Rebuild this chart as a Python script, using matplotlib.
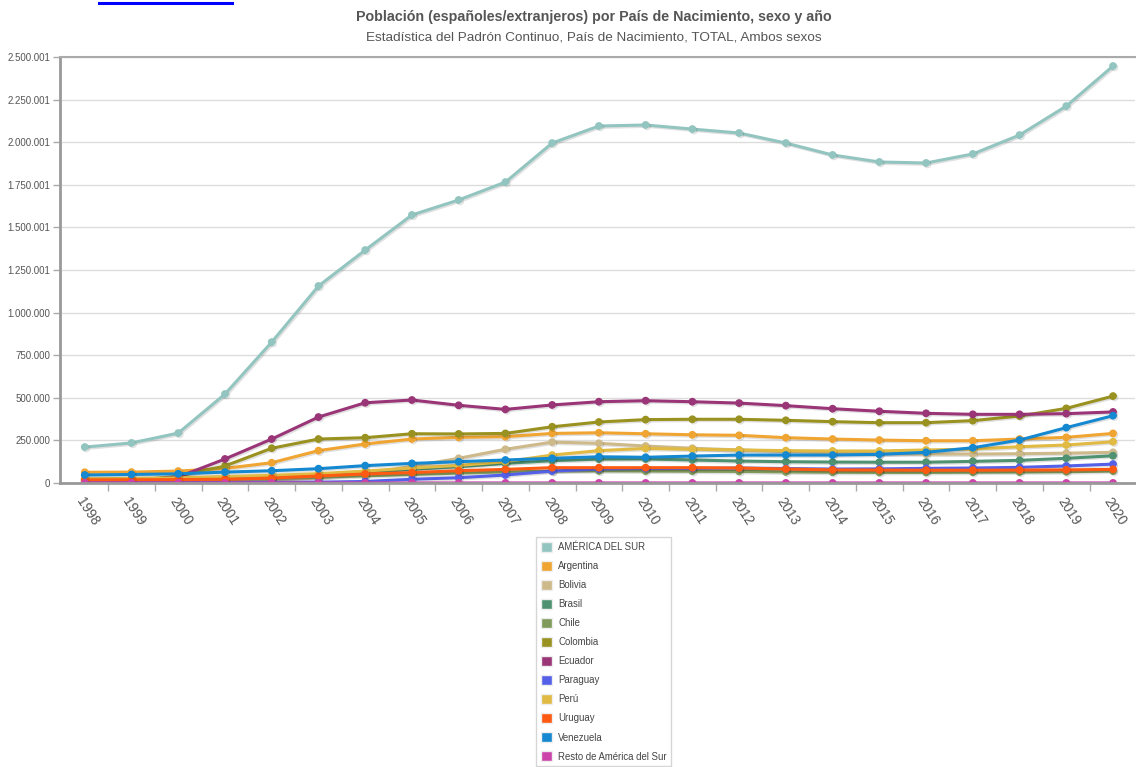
import matplotlib
matplotlib.use("Agg")
import matplotlib.pyplot as plt
import matplotlib.patheffects as pe
from matplotlib.lines import Line2D
from matplotlib.patches import Patch

years = [str(y) for y in range(1998, 2021)]

america_sur = [211000, 235000, 293000, 522000, 827000, 1156000, 1367000, 1573000,
               1661000, 1766000, 1995000, 2095000, 2101000, 2077000, 2054000, 1995000,
               1925000, 1884000, 1878000, 1931000, 2042000, 2212000, 2447000]
argentina = [63000, 64000, 70000, 86000, 119000, 190000, 229000, 258000, 268000, 272000,
             291000, 295000, 289000, 283000, 280000, 266000, 258000, 252000, 248000,
             248000, 258000, 268000, 291000]
bolivia = [3000, 3000, 5000, 8000, 14000, 30000, 55000, 98000, 145000, 198000, 240000,
           233000, 217000, 204000, 194000, 185000, 176000, 172000, 170000, 170000,
           172000, 175000, 180000]
brasil = [20000, 20000, 23000, 28000, 35000, 45000, 60000, 80000, 96000, 115000, 131000,
          140000, 141000, 135000, 129000, 125000, 123000, 122000, 122000, 127000,
          133000, 145000, 160000]
chile = [17000, 18000, 19000, 25000, 30000, 35000, 42000, 50000, 58000, 65000, 70000,
         71000, 70000, 69000, 68000, 65000, 63000, 62000, 62000, 63000, 64000, 66000, 70000]
colombia = [10000, 13000, 40000, 100000, 204000, 258000, 266000, 289000, 288000, 291000,
            330000, 358000, 372000, 374000, 374000, 368000, 360000, 354000, 354000,
            366000, 393000, 438000, 510000]
ecuador = [4000, 12000, 35000, 141000, 258000, 387000, 471000, 487000, 456000, 432000,
           458000, 477000, 483000, 477000, 469000, 454000, 436000, 421000, 409000,
           403000, 403000, 407000, 417000]
paraguay = [2000, 2000, 2000, 3000, 4000, 5000, 9000, 22000, 31000, 47000, 70000, 82000,
            85000, 86000, 88000, 85000, 82000, 83000, 86000, 88000, 92000, 100000, 111000]
peru = [25000, 27000, 30000, 38000, 45000, 55000, 70000, 88000, 103000, 125000, 164000,
        190000, 203000, 198000, 194000, 190000, 188000, 188000, 194000, 199000, 213000,
        223000, 242000]
uruguay = [18000, 19000, 20000, 22000, 29000, 41000, 53000, 61000, 72000, 80000, 90000,
           90000, 90000, 90000, 88000, 82000, 77000, 76000, 75000, 75000, 76000, 77000, 80000]
venezuela = [47000, 50000, 54000, 64000, 72000, 84000, 102000, 115000, 125000, 135000,
             145000, 154000, 151000, 158000, 164000, 164000, 164000, 168000, 180000,
             207000, 252000, 325000, 395000]
resto = [250, 260, 280, 300, 320, 350, 380, 400, 420, 440, 460, 470, 480, 480, 470, 460,
         450, 440, 430, 430, 440, 450, 470]

series_names = ["AMÉRICA DEL SUR", "Argentina", "Bolivia", "Brasil", "Chile", "Colombia",
                "Ecuador", "Paraguay", "Perú", "Uruguay", "Venezuela",
                "Resto de América del Sur"]
series_values = [america_sur, argentina, bolivia, brasil, chile, colombia, ecuador,
                 paraguay, peru, uruguay, venezuela, resto]
series_colors = ["#93c5c0", "#f0a532", "#cdb98a", "#4e9272", "#7f9a5a", "#9a9220",
                 "#9a3578", "#5560e8", "#e0ba42", "#ff5a12", "#1488d0", "#cc44aa"]

ytick_values = [0, 250000, 500000, 750000, 1000000, 1250001, 1500001, 1750001,
                2000001, 2250001, 2500001]
ytick_labels = ["0", "250.000", "500.000", "750.000", "1.000.000", "1.250.001",
                "1.500.001", "1.750.001", "2.000.001", "2.250.001", "2.500.001"]

title = "Población (españoles/extranjeros) por País de Nacimiento, sexo y año"
subtitle = "Estadística del Padrón Continuo, País de Nacimiento, TOTAL, Ambos sexos"

plt.rcParams["font.family"] = ["Liberation Sans", "DejaVu Sans"]

W, H = 1136, 767
fig = plt.figure(figsize=(W / 100, H / 100), dpi=100)
ax = fig.add_axes([60 / W, 1 - 483 / H, (1135 - 60) / W, 426 / H])

x = list(range(len(years)))
for name, vals, col in zip(series_names, series_values, series_colors):
    ax.plot(x, vals, color=col, lw=2.2, marker="o", ms=4.6, mec=col, mfc=col,
            solid_joinstyle="round", label=name,
            path_effects=[pe.SimpleLineShadow(offset=(1, -1), alpha=0.12, shadow_color="black"),
                          pe.Normal()])

ax.set_xlim(-0.53, len(years) - 0.53)
ax.set_ylim(0, 2500001)

ax.set_yticks(ytick_values)
ax.set_yticklabels(ytick_labels)
ax.tick_params(axis="y", length=5, width=1, color="#aaaaaa", labelsize=7,
               labelcolor="#555555", pad=2)
ax.grid(axis="y", color="#dddddd", lw=1)
ax.set_axisbelow(True)

ax.set_xticks(x)
ax.set_xticklabels(years, rotation=-57, ha="left", va="top", rotation_mode="anchor")
ax.tick_params(axis="x", length=0, labelsize=9.8, labelcolor="#555555", pad=9)
ax.set_xticks([i + 0.5 for i in x[:-1]], minor=True)
ax.tick_params(axis="x", which="minor", length=6, width=1, color="#aaaaaa")

for side in ("left", "bottom"):
    ax.spines[side].set_color("#999999")
    ax.spines[side].set_linewidth(2)
ax.spines["top"].set_color("#aaaaaa")
ax.spines["top"].set_linewidth(1.5)
ax.spines["right"].set_visible(False)

fig.text(594 / W, 1 - 17 / H, title, ha="center", va="center", fontsize=10.3,
         fontweight="bold", color="#555555")
fig.text(594 / W, 1 - 38 / H, subtitle, ha="center", va="center", fontsize=9.7,
         color="#555555")

# link underline above the chart
fig.add_artist(Line2D([99 / W, 232 / W], [1 - 2.5 / H, 1 - 2.5 / H], color="#0000ff",
                      lw=2.2, transform=fig.transFigure))

handles = [Patch(facecolor=c, edgecolor="#eeeeee", lw=1) for c in series_colors]
leg = fig.legend(handles, series_names, loc="upper left",
                 bbox_to_anchor=(536 / W, 1 - 537 / H), frameon=True, fancybox=False,
                 fontsize=6.9, handlelength=1.2, handleheight=1.2, handletextpad=0.6,
                 labelspacing=0.93, borderpad=0.5, borderaxespad=0)
leg.get_frame().set_edgecolor("#cccccc")
leg.get_frame().set_linewidth(1)
for t in leg.get_texts():
    t.set_color("#444444")

fig.savefig("out.png", dpi=100)
